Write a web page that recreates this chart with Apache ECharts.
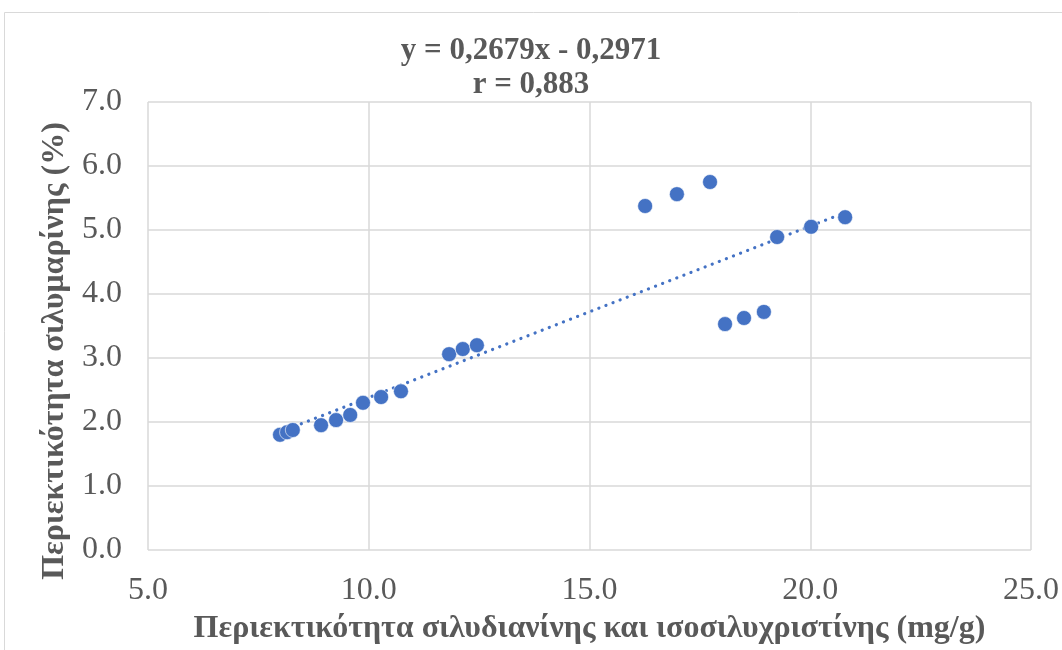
<!DOCTYPE html>
<html>
<head>
<meta charset="utf-8">
<script src="https://cdn.jsdelivr.net/npm/echarts@6/dist/echarts.min.js"></script>
<style>
  html, body { margin: 0; padding: 0; background: #ffffff; }
  #chart { width: 1062px; height: 650px; }
</style>
</head>
<body>
<div id="chart"></div>
<script>
// Silybin A+B content (mg/g) vs silymarin content (%)
const xValues = [7.99, 8.15, 8.28, 8.92, 9.26, 9.58, 9.87, 10.28, 10.73, 11.82, 12.13, 12.45,
                 16.26, 16.98, 17.73, 18.07, 18.50, 18.95, 19.25, 20.02, 20.79];
const yValues = [1.80, 1.84, 1.875, 1.95, 2.03, 2.11, 2.30, 2.39, 2.48, 3.06, 3.14, 3.20,
                 5.375, 5.56, 5.75, 3.53, 3.625, 3.72, 4.89, 5.05, 5.20];

// Linear fit shown in the title
const slope = 0.2679;
const intercept = -0.2971;
const titleLines = ['y = 0,2679x - 0,2971', 'r = 0,883'];

const xAxisName = 'Περιεκτικότητα σιλυδιανίνης και ισοσιλυχριστίνης (mg/g)';
const yAxisName = 'Περιεκτικότητα σιλυμαρίνης (%)';

const points = xValues.map((x, i) => [x, yValues[i]]);
const xMin = Math.min(...xValues);
const xMax = Math.max(...xValues);
const trend = [[xMin, slope * xMin + intercept], [xMax, slope * xMax + intercept]];

const serif = '"Liberation Serif", "Times New Roman", serif';
const grey = '#595959';
const blue = '#4472C4';

const chart = echarts.init(document.getElementById('chart'), null, { renderer: 'canvas' });
chart.setOption({
  backgroundColor: '#ffffff',
  animation: false,
  title: {
    text: titleLines.join('\n'),
    left: 'center',
    top: 29,
    textStyle: { fontFamily: serif, fontSize: 31, fontWeight: 'bold', color: grey, lineHeight: 34 }
  },
  graphic: [{
    type: 'rect',
    shape: { x: 4.5, y: 12.5, width: 1100, height: 700 },
    style: { fill: 'none', stroke: '#d9d9d9', lineWidth: 1 },
    silent: true
  }],
  grid: {
    left: 148, right: 31, top: 102, bottom: 100,
    containLabel: false,
    outerBoundsMode: 'none'
  },
  xAxis: {
    type: 'value',
    min: 5, max: 25, interval: 5,
    axisLine: { show: false },
    axisTick: { show: false },
    splitLine: { show: true, lineStyle: { color: '#d9d9d9', width: 1.5 } },
    axisLabel: {
      fontFamily: serif, fontSize: 32, color: grey, margin: 25,
      formatter: v => v.toFixed(1)
    },
    name: xAxisName,
    nameLocation: 'middle',
    nameGap: 63,
    nameTextStyle: { fontFamily: serif, fontSize: 32, fontWeight: 'bold', color: grey }
  },
  yAxis: {
    type: 'value',
    min: 0, max: 7, interval: 1,
    axisLine: { show: false },
    axisTick: { show: false },
    splitLine: { show: true, lineStyle: { color: '#d9d9d9', width: 1.5 } },
    axisLabel: {
      fontFamily: serif, fontSize: 32, color: grey, margin: 26,
      formatter: v => v.toFixed(1)
    },
    name: yAxisName,
    nameLocation: 'middle',
    nameGap: 72,
    nameTextStyle: {
      fontFamily: serif, fontSize: 32, fontWeight: 'bold', color: grey,
      padding: [0, 50, 0, 0]
    }
  },
  series: [
    {
      type: 'line',
      data: trend,
      showSymbol: false,
      symbol: 'none',
      lineStyle: { color: blue, width: 3.2, type: [0.1, 7.5], cap: 'round' },
      silent: true,
      z: 1
    },
    {
      type: 'scatter',
      data: points,
      symbol: 'circle',
      symbolSize: 15,
      itemStyle: { color: blue, opacity: 1, borderColor: '#ffffff', borderWidth: 0.6 },
      z: 2
    }
  ]
});
</script>
</body>
</html>
